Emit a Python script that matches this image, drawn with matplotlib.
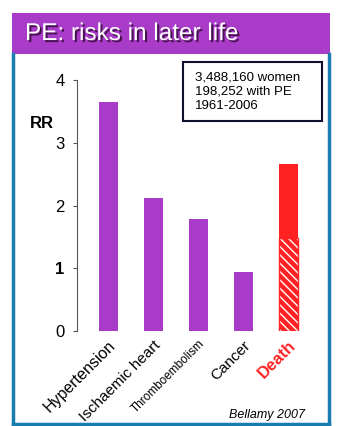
import matplotlib.pyplot as plt
import matplotlib.patheffects as pe
from matplotlib.patches import Rectangle
from matplotlib.lines import Line2D

categories = ['Hypertension', 'Ischaemic heart', 'Thromboembolism', 'Cancer', 'Death']
rr = [3.65, 2.12, 1.78, 0.94, 2.66]
death_low = 1.48
info = ['3,488,160 women', '198,252 with PE', '1961-2006']

purple = '#A83BC8'
red = '#FF2222'
blue = '#1A7DB0'

W, H = 344, 426
fig = plt.figure(figsize=(W / 100, H / 100), dpi=100)
plt.rcParams['font.family'] = ['Liberation Sans', 'DejaVu Sans']

def fx(x):
    return x / W

def fy(y):
    return 1 - y / H

# banner + frame
fig.patches.append(Rectangle((fx(12), fy(54)), fx(318), 41 / H, transform=fig.transFigure,
                             facecolor=purple, edgecolor='none'))
for xs, ys in [([12.5, 12.5], [54, 424]), ([328.5, 328.5], [54, 424]), ([12.5, 328.5], [423.5, 423.5])]:
    fig.lines.append(Line2D([fx(v) for v in xs], [fy(v) for v in ys], transform=fig.transFigure,
                            color=blue, lw=2.5))
fig.text(fx(25), fy(34), 'PE: risks in later life', color='white', fontsize=17.5, va='center',
         path_effects=[pe.withSimplePatchShadow(offset=(1.5, -1.5), shadow_rgbFace='#3a1040', alpha=0.9)])

ax = fig.add_axes([fx(77), fy(331), (320 - 77) / W, (331 - 80) / H])
x = list(range(len(categories)))
ax.bar(x[:4], rr[:4], width=0.42, color=purple)
ax.bar(x[4], death_low, width=0.42, color=red, edgecolor='white', hatch='\\\\\\\\', linewidth=0)
ax.bar(x[4], death_low, width=0.42, fill=False, edgecolor=red, linewidth=1)
ax.bar(x[4], rr[4] - death_low, bottom=death_low, width=0.42, color=red)
ax.set_xlim(-0.69, 4.71)
ax.set_ylim(0, 4)
ax.set_yticks([0, 1, 2, 3, 4])
ax.set_yticklabels(['0', '1', '2', '3', '4'], fontsize=12)
ax.get_yticklabels()[1].set_fontweight('bold')
ax.tick_params(axis='y', length=3, width=0.8, pad=6, color='#555555')
for s in ['top', 'right', 'bottom']:
    ax.spines[s].set_visible(False)
ax.spines['left'].set_color('#555555')
ax.spines['left'].set_linewidth(0.8)
ax.set_xticks(x)
ax.set_xticklabels(categories, rotation=45, ha='right', rotation_mode='anchor')
ax.tick_params(axis='x', length=0, pad=5)
sizes = [11.5, 11, 8.5, 11, 12]
for lab, s in zip(ax.get_xticklabels(), sizes):
    lab.set_fontsize(s)
lab = ax.get_xticklabels()[4]
lab.set_color(red)
lab.set_fontweight('bold')

fig.text(fx(30), fy(124), 'RR', fontsize=12, fontweight='bold', va='center')

fig.patches.append(Rectangle((fx(183), fy(121)), (322 - 183) / W, (121 - 62) / H, transform=fig.transFigure,
                             facecolor='white', edgecolor='#101030', linewidth=1.5))
for i, t in enumerate(info):
    fig.text(fx(195), fy(77 + 14.5 * i), t, fontsize=9.5, va='center')

fig.text(fx(305), fy(415), 'Bellamy 2007', fontsize=9, style='italic', ha='right', va='center')

fig.savefig('out.png', dpi=100)
